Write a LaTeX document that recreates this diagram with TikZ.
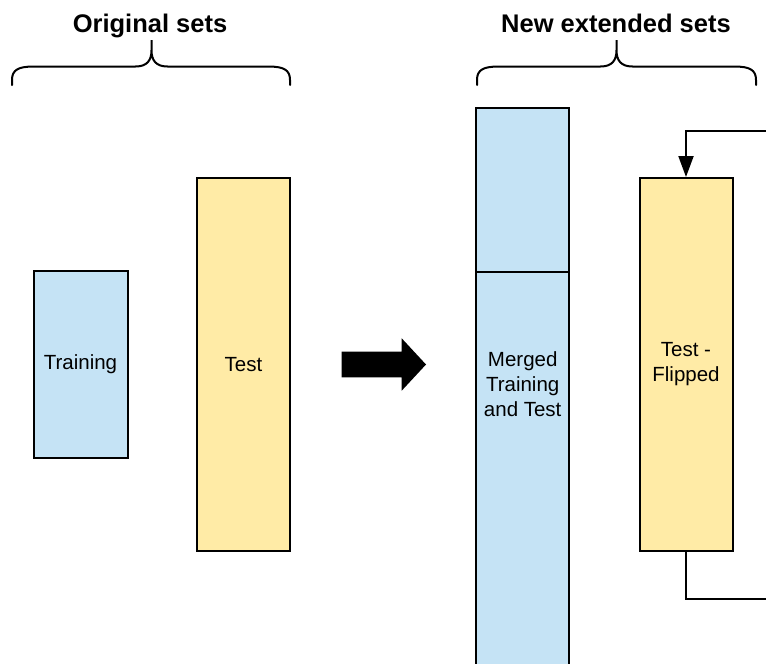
\documentclass[tikz,border=0pt]{standalone}
\usepackage{fontspec}
\setmainfont{Liberation Sans}
\usetikzlibrary{arrows.meta}
\definecolor{setblue}{RGB}{197,227,245}
\definecolor{setyellow}{RGB}{255,235,166}
% curly brace: left end, tip, right end (x positions)
\newcommand\setsbrace[3]{%
  \draw[line width=2pt, line cap=round]
    (#1,85) -- (#1,80) .. controls (#1,70) and (#1+6,66.5) .. (#1+22,66.5)
    -- (#2-16,66.5) .. controls (#2-4,66.5) and (#2,60) .. (#2,50) -- (#2,40)
    -- (#2,50) .. controls (#2,60) and (#2+4,66.5) .. (#2+16,66.5)
    -- (#3-22,66.5) .. controls (#3-6,66.5) and (#3,70) .. (#3,80) -- (#3,85);}
\begin{document}
\begin{tikzpicture}[x=1pt, y=-1pt,
  setbox/.style={draw=black, line width=2pt, inner sep=0pt, align=center,
    font=\fontsize{20.5}{25}\selectfont},
  blueset/.style={setbox, fill=setblue},
  yellowset/.style={setbox, fill=setyellow},
  title/.style={anchor=base, inner sep=0pt, font=\fontsize{25.5}{30}\selectfont\bfseries},
  plain/.style={inner sep=0pt, align=center, font=\fontsize{20.5}{25}\selectfont},
  loopline/.style={line width=2pt}]
\useasboundingbox (0,0) rectangle (766,664);
\clip (0,0) rectangle (766,664);

% headings and braces
\node[title] (origtitle) at (150,32) {Original sets};
\node[title] (newtitle) at (616,32) {New extended sets};
\setsbrace{12}{151.5}{290}
\setsbrace{477}{616.5}{756}

% original sets
\node[blueset, minimum width=94pt, minimum height=187pt] (training) at (80.5,364.5) {Training};
\node[yellowset, minimum width=93pt, minimum height=373pt] (test) at (243.5,364.5) {Test};

% block arrow
\fill[black] (341.7,351.7) -- (401.7,351.7) -- (401.7,338.3) -- (426,364.5)
  -- (401.7,390.7) -- (401.7,377.3) -- (341.7,377.3) -- cycle;

% extended sets
\node[blueset, minimum width=93pt, minimum height=164pt] (mergedtop) at (522.7,190) {};
\node[blueset, minimum width=93pt, minimum height=428pt] (merged) at (522.7,486) {};
\node[plain] (mergedtext) at (522.7,384.5) {Merged\\Training\\and Test};
\node[yellowset, minimum width=93pt, minimum height=373pt] (flipped) at (686,364.5) {Test -\\Flipped};

% loop leaving and re-entering the flipped set
\coordinate (loopin) at (766,131);
\coordinate (loopout) at (766,598.5);
\draw[loopline, -{Triangle[length=21pt,width=15pt]}] (loopin) -| (flipped.north);
\draw[loopline] (flipped.south) |- (loopout);
\end{tikzpicture}
\end{document}
